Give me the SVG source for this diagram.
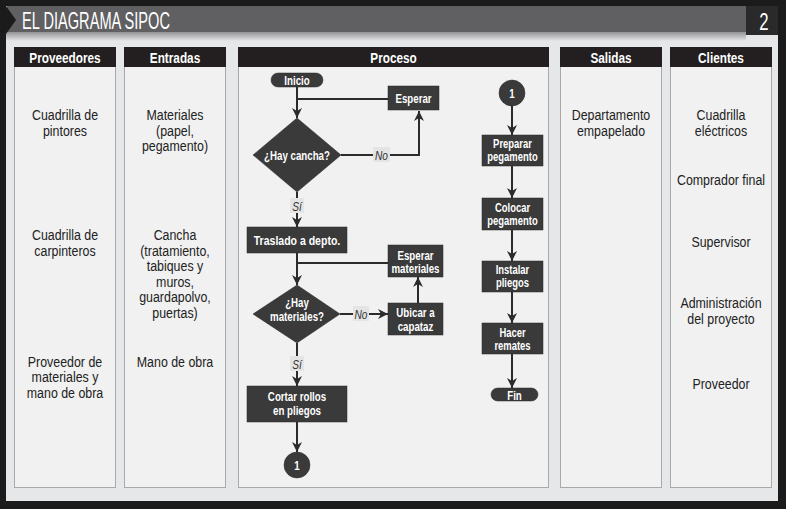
<svg xmlns="http://www.w3.org/2000/svg" width="786" height="509" viewBox="0 0 786 509">
<style>
.hdr{fill:#231f20}
.body{fill:#f1f1f1;stroke:#a9a9a9;stroke-width:1}
text{font-family:"Liberation Sans",Arial,sans-serif}
.ht{font-weight:bold;font-size:15.5px;fill:#fff;text-anchor:middle}
.ct{font-size:15.5px;fill:#222;text-anchor:middle}
.node{fill:#3a3a3a;stroke:#2a2a2a;stroke-width:0.5}
.nt{font-weight:bold;font-size:13.5px;fill:#fff;text-anchor:middle}
.conn{fill:none;stroke:#2b2b2b;stroke-width:2}
.lbl{font-style:italic;font-size:13px;fill:#333;text-anchor:middle}
.lblbg{fill:#e4e4e4}
</style>
<defs>
<marker id="arr" markerUnits="userSpaceOnUse" markerWidth="11" markerHeight="11" refX="10" refY="5" orient="auto">
<path d="M0,0 L10,5 L0,10 L3,5 z" fill="#2b2b2b"/>
</marker>
<linearGradient id="shade" x1="0" y1="0" x2="0" y2="1">
<stop offset="0" stop-color="#8a8a8c"/>
<stop offset="1" stop-color="#e6e7e9"/>
</linearGradient>
</defs>
<rect x="0" y="0" width="786" height="509" fill="#1b1b1b"/>
<rect x="6" y="6" width="772" height="495" fill="#e6e7e9"/>
<rect x="6" y="31" width="740" height="10" fill="url(#shade)"/>
<rect x="7" y="6" width="739" height="26" fill="#606062"/>
<polygon points="6,6 16,20 6,34" fill="#1b1b1b"/>
<text x="22" y="29" font-size="24" fill="#fff" textLength="148" lengthAdjust="spacingAndGlyphs">EL DIAGRAMA SIPOC</text>
<rect x="746" y="6" width="32" height="29" fill="#2a2a2a"/>
<text transform="matrix(0.7,0,0,1,764,29.5)" font-size="24" fill="#fff" text-anchor="middle">2</text>

<g id="col-proveedores">
<rect class="body" x="14.5" y="66.5" width="101" height="421"/>
<rect class="hdr" x="14" y="47" width="102" height="20"/>
<text class="ht" transform="matrix(0.76,0,0,1,65,62.5)">Proveedores</text>
<text class="ct" transform="matrix(0.8,0,0,1,65,120)">Cuadrilla de</text>
<text class="ct" transform="matrix(0.8,0,0,1,65,135.5)">pintores</text>
<text class="ct" transform="matrix(0.8,0,0,1,65,240)">Cuadrilla de</text>
<text class="ct" transform="matrix(0.8,0,0,1,65,255.5)">carpinteros</text>
<text class="ct" transform="matrix(0.8,0,0,1,65,366.5)">Proveedor de</text>
<text class="ct" transform="matrix(0.8,0,0,1,65,382)">materiales y</text>
<text class="ct" transform="matrix(0.8,0,0,1,65,397.5)">mano de obra</text>
</g>
<g id="col-entradas">
<rect class="body" x="124.5" y="66.5" width="101" height="421"/>
<rect class="hdr" x="124" y="47" width="102" height="20"/>
<text class="ht" transform="matrix(0.76,0,0,1,175,62.5)">Entradas</text>
<text class="ct" transform="matrix(0.8,0,0,1,175,120)">Materiales</text>
<text class="ct" transform="matrix(0.8,0,0,1,175,135.5)">(papel,</text>
<text class="ct" transform="matrix(0.8,0,0,1,175,151)">pegamento)</text>
<text class="ct" transform="matrix(0.8,0,0,1,175,240)">Cancha</text>
<text class="ct" transform="matrix(0.8,0,0,1,175,255.5)">(tratamiento,</text>
<text class="ct" transform="matrix(0.8,0,0,1,175,271)">tabiques y</text>
<text class="ct" transform="matrix(0.8,0,0,1,175,286.5)">muros,</text>
<text class="ct" transform="matrix(0.8,0,0,1,175,302)">guardapolvo,</text>
<text class="ct" transform="matrix(0.8,0,0,1,175,317.5)">puertas)</text>
<text class="ct" transform="matrix(0.8,0,0,1,175,366.5)">Mano de obra</text>
</g>
<g id="col-proceso">
<rect class="body" x="238.5" y="66.5" width="310" height="421"/>
<rect class="hdr" x="238" y="47" width="311" height="20"/>
<text class="ht" transform="matrix(0.76,0,0,1,393.5,62.5)">Proceso</text>
</g>
<g id="col-salidas">
<rect class="body" x="560.5" y="66.5" width="101" height="421"/>
<rect class="hdr" x="560" y="47" width="102" height="20"/>
<text class="ht" transform="matrix(0.76,0,0,1,611,62.5)">Salidas</text>
<text class="ct" transform="matrix(0.8,0,0,1,611,120)">Departamento</text>
<text class="ct" transform="matrix(0.8,0,0,1,611,135.5)">empapelado</text>
</g>
<g id="col-clientes">
<rect class="body" x="670.5" y="66.5" width="101" height="421"/>
<rect class="hdr" x="670" y="47" width="102" height="20"/>
<text class="ht" transform="matrix(0.76,0,0,1,721,62.5)">Clientes</text>
<text class="ct" transform="matrix(0.8,0,0,1,721,120)">Cuadrilla</text>
<text class="ct" transform="matrix(0.8,0,0,1,721,135.5)">eléctricos</text>
<text class="ct" transform="matrix(0.8,0,0,1,721,185)">Comprador final</text>
<text class="ct" transform="matrix(0.8,0,0,1,721,247)">Supervisor</text>
<text class="ct" transform="matrix(0.8,0,0,1,721,308)">Administración</text>
<text class="ct" transform="matrix(0.8,0,0,1,721,323.5)">del proyecto</text>
<text class="ct" transform="matrix(0.8,0,0,1,721,388.5)">Proveedor</text>
</g>

<g id="connectors">
<path class="conn" d="M297,87 V118" marker-end="url(#arr)"/>
<path class="conn" d="M388,99 H297"/>
<path class="conn" d="M341,155 H419 V111" marker-end="url(#arr)"/>
<path class="conn" d="M297,192 V227" marker-end="url(#arr)"/>
<path class="conn" d="M297,253 V285" marker-end="url(#arr)"/>
<path class="conn" d="M388,263 H297"/>
<path class="conn" d="M340,314 H388" marker-end="url(#arr)"/>
<path class="conn" d="M418,303 V277" marker-end="url(#arr)"/>
<path class="conn" d="M297,343 V386" marker-end="url(#arr)"/>
<path class="conn" d="M297,422 V452" marker-end="url(#arr)"/>
<path class="conn" d="M512,106 V135" marker-end="url(#arr)"/>
<path class="conn" d="M512,166 V198" marker-end="url(#arr)"/>
<path class="conn" d="M512,230 V261" marker-end="url(#arr)"/>
<path class="conn" d="M512,292 V323" marker-end="url(#arr)"/>
<path class="conn" d="M512,354 V388" marker-end="url(#arr)"/>
<rect class="lblbg" x="373" y="147" width="17" height="15"/>
<text class="lbl" transform="matrix(0.78,0,0,1,381.5,159.5)">No</text>
<rect class="lblbg" x="290" y="198" width="14" height="15"/>
<text class="lbl" transform="matrix(0.78,0,0,1,297,210.5)">Sí</text>
<rect class="lblbg" x="353" y="306" width="16" height="15"/>
<text class="lbl" transform="matrix(0.78,0,0,1,361,318.5)">No</text>
<rect class="lblbg" x="290" y="356" width="14" height="15"/>
<text class="lbl" transform="matrix(0.78,0,0,1,297,368.5)">Sí</text>
</g>

<g id="inicio">
<rect class="node" x="271" y="73" width="52" height="14" rx="7"/>
<text class="nt" transform="matrix(0.72,0,0,1,297,85)">Inicio</text>
</g>
<g id="esperar">
<rect class="node" x="388" y="86" width="51" height="24"/>
<text class="nt" transform="matrix(0.72,0,0,1,413.5,103)">Esperar</text>
</g>
<g id="hay-cancha">
<polygon class="node" points="297,118 341,155 297,192 253,155"/>
<text class="nt" transform="matrix(0.72,0,0,1,297,160)">¿Hay cancha?</text>
</g>
<g id="traslado">
<rect class="node" x="247" y="227" width="100" height="26"/>
<text class="nt" transform="matrix(0.78,0,0,1,297,245)">Traslado a depto.</text>
</g>
<g id="esperar-materiales">
<rect class="node" x="388" y="245" width="55" height="32"/>
<text class="nt" transform="matrix(0.72,0,0,1,415.5,259.5)">Esperar</text>
<text class="nt" transform="matrix(0.72,0,0,1,415.5,272.5)">materiales</text>
</g>
<g id="hay-materiales">
<polygon class="node" points="297,285 340,314 297,343 253,314"/>
<text class="nt" transform="matrix(0.72,0,0,1,297,307)">¿Hay</text>
<text class="nt" transform="matrix(0.72,0,0,1,297,321)">materiales?</text>
</g>
<g id="ubicar-capataz">
<rect class="node" x="388" y="303" width="55" height="32"/>
<text class="nt" transform="matrix(0.72,0,0,1,415.5,317)">Ubicar a</text>
<text class="nt" transform="matrix(0.72,0,0,1,415.5,330.5)">capataz</text>
</g>
<g id="cortar">
<rect class="node" x="247" y="386" width="100" height="36"/>
<text class="nt" transform="matrix(0.72,0,0,1,297,400.5)">Cortar rollos</text>
<text class="nt" transform="matrix(0.72,0,0,1,297,414.5)">en pliegos</text>
</g>
<g id="conector-1a">
<circle class="node" cx="297" cy="465" r="13"/>
<text class="nt" transform="matrix(0.72,0,0,1,297,470)">1</text>
</g>
<g id="conector-1b">
<circle class="node" cx="512" cy="93" r="13"/>
<text class="nt" transform="matrix(0.72,0,0,1,512,98)">1</text>
</g>
<g id="preparar">
<rect class="node" x="482" y="135" width="61" height="31"/>
<text class="nt" transform="matrix(0.7,0,0,1,512.5,148)">Preparar</text>
<text class="nt" transform="matrix(0.7,0,0,1,512.5,161)">pegamento</text>
</g>
<g id="colocar">
<rect class="node" x="482" y="198" width="61" height="32"/>
<text class="nt" transform="matrix(0.7,0,0,1,512.5,211.5)">Colocar</text>
<text class="nt" transform="matrix(0.7,0,0,1,512.5,224.5)">pegamento</text>
</g>
<g id="instalar">
<rect class="node" x="482" y="261" width="61" height="31"/>
<text class="nt" transform="matrix(0.7,0,0,1,512.5,274)">Instalar</text>
<text class="nt" transform="matrix(0.7,0,0,1,512.5,287)">pliegos</text>
</g>
<g id="hacer">
<rect class="node" x="482" y="323" width="61" height="31"/>
<text class="nt" transform="matrix(0.7,0,0,1,512.5,336.5)">Hacer</text>
<text class="nt" transform="matrix(0.7,0,0,1,512.5,349.5)">remates</text>
</g>
<g id="fin">
<rect class="node" x="491" y="388" width="47" height="13" rx="6.5"/>
<text class="nt" transform="matrix(0.72,0,0,1,514.5,399.5)">Fin</text>
</g>
</svg>
